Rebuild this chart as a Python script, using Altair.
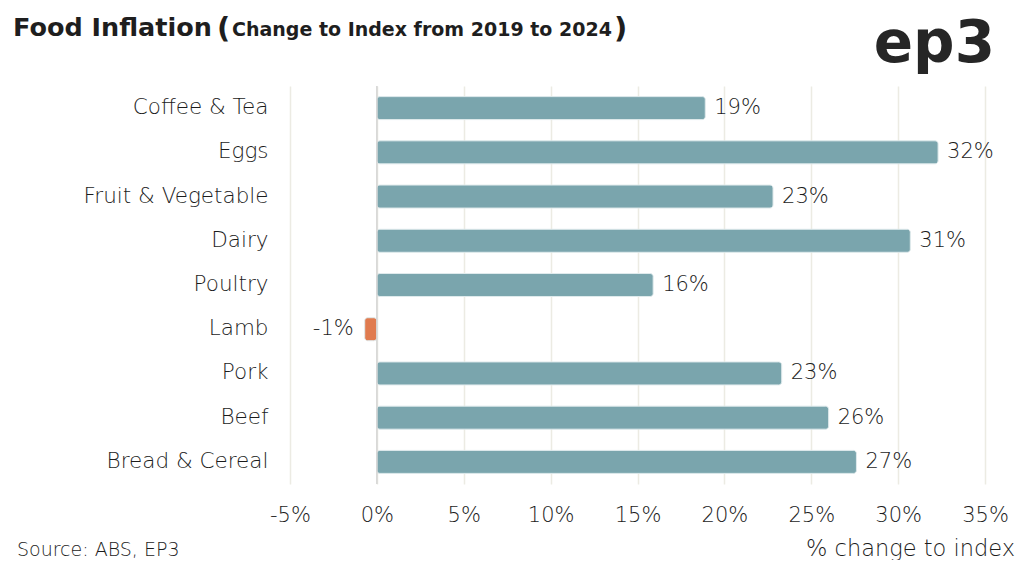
import altair as alt
import pandas as pd

categories = ["Coffee & Tea", "Eggs", "Fruit & Vegetable", "Dairy", "Poultry",
              "Lamb", "Pork", "Beef", "Bread & Cereal"]
values = [18.9, 32.3, 22.8, 30.7, 15.9, -0.7, 23.3, 26.0, 27.6]
labels = ["19%", "32%", "23%", "31%", "16%", "-1%", "23%", "26%", "27%"]

df = pd.DataFrame({"cat": categories, "val": values, "label": labels})
df["color"] = ["#7aa5ad" if v >= 0 else "#e07b4f" for v in values]

FONT = "DejaVu Sans"
TXT = "#1c1c1c"
W, H = 695, 398

x_enc = alt.X("val:Q", scale=alt.Scale(domain=[-5, 35], nice=False, zero=False),
              axis=alt.Axis(values=[-5, 0, 5, 10, 15, 20, 25, 30, 35],
                            labelExpr="datum.value + '%'", title=None,
                            grid=True, gridColor="#ecebe3", gridWidth=1.5,
                            domain=False, ticks=False, labelPadding=20,
                            labelFlush=False,
                            labelFontSize=21, labelFontWeight=300,
                            labelColor=TXT, labelFont=FONT))
y_enc = alt.Y("cat:N", sort=categories,
              scale=alt.Scale(paddingInner=0.48, paddingOuter=0.24),
              axis=alt.Axis(title=None, domain=False, ticks=False, labelPadding=22,
                            labelLimit=400,
                            labelFontSize=21.5, labelFontWeight=300,
                            labelColor=TXT, labelFont=FONT))

base = alt.Chart(df)

bars = base.mark_bar(cornerRadius=3, stroke="#dfeaec", strokeWidth=1).encode(
    x=x_enc, x2=alt.datum(0), y=y_enc,
    color=alt.Color("color:N", scale=None))

zero = alt.Chart(pd.DataFrame({"z": [0]})).mark_rule(color="#d4d4d4", strokeWidth=1.5).encode(
    x=alt.X("z:Q"))

pos_lab = base.transform_filter("datum.val >= 0").mark_text(
    align="left", baseline="middle", dx=9, fontSize=21, fontWeight=300,
    font=FONT, color=TXT).encode(
    x="val:Q", y=alt.Y("cat:N", sort=categories), text="label:N")
neg_lab = base.transform_filter("datum.val < 0").mark_text(
    align="right", baseline="middle", dx=-11, fontSize=21, fontWeight=300,
    font=FONT, color=TXT).encode(
    x="val:Q", y=alt.Y("cat:N", sort=categories), text="label:N")

one = pd.DataFrame({"a": [0]})
def txt(s, x, y, size, weight=300, align="left", color=TXT, font=FONT):
    return alt.Chart(one).mark_text(text=s, align=align, baseline="alphabetic",
                                    fontSize=size, fontWeight=weight, font=font,
                                    color=color).encode(x=alt.value(x), y=alt.value(y))

OX = 290
title1 = txt("Food Inflation", 13 - OX, -50, 25.5, "bold", color="#1e1e1e")
title_p1 = txt("(", 217 - OX, -48, 29, "bold", color="#1e1e1e")
title2 = txt("Change to Index from 2019  to 2024", 232 - OX, -50, 19, "bold", color="#1e1e1e")
title_p2 = txt(")", 614 - OX, -48, 29, "bold", color="#1e1e1e")
logo = txt("ep3", 995 - OX, -24, 58, "bold", align="right", color="#262626")
source = txt("Source: ABS, EP3", 17 - OX, 470, 19)
axtitle = txt("% change to index", 1015 - OX, 470, 22.5, align="right")

chart = alt.layer(bars, zero, pos_lab, neg_lab, title1, title_p1, title2, title_p2,
                  logo, source, axtitle).properties(
    width=W, height=H,
    background="white",
    autosize=alt.AutoSizeParams(type="none"),
    padding={"left": 282, "top": 78, "right": 31, "bottom": 76},
).configure_view(stroke=None)

chart.save("out.html", embed_options={"renderer": "svg", "actions": False})
